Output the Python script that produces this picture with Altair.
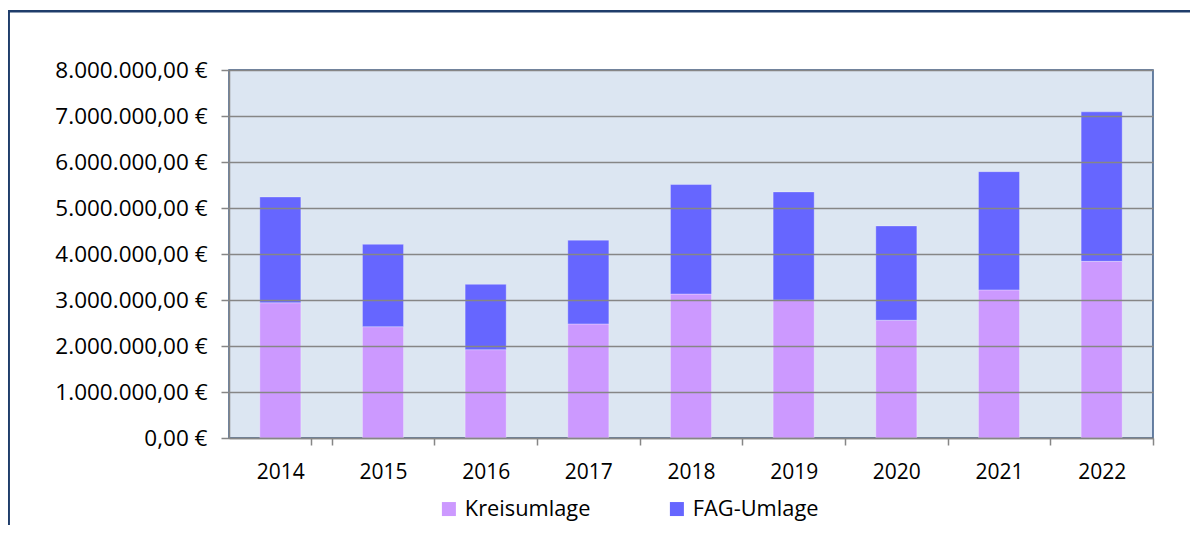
import altair as alt
import pandas as pd

years = ["2014", "2015", "2016", "2017", "2018", "2019", "2020", "2021", "2022"]
kreisumlage = [2940000, 2420000, 1920000, 2480000, 3130000, 3000000, 2560000, 3220000, 3840000]
fag_umlage = [2300000, 1790000, 1420000, 1820000, 2380000, 2350000, 2050000, 2570000, 3250000]
series = ["Kreisumlage", "FAG-Umlage"]
colors = ["#CC99FF", "#6666FF"]
y_ticks = [0, 1000000, 2000000, 3000000, 4000000, 5000000, 6000000, 7000000, 8000000]

rows = []
for i, yr in enumerate(years):
    rows.append({"Jahr": yr, "Art": series[0], "Betrag": kreisumlage[i], "ord": 0})
    rows.append({"Jahr": yr, "Art": series[1], "Betrag": fag_umlage[i], "ord": 1})
df = pd.DataFrame(rows)

FONT = "Open Sans"
GREY = "#868686"
W = 924
H = 368
HALF_STEP = W / len(years) / 2

label_expr = (
    "replace(replace(replace(format(datum.value, ',.2f'), regexp(',', 'g'), '_'), "
    "regexp('[.]', 'g'), ','), regexp('_', 'g'), '.') + ' €'"
)

bars = alt.Chart(df).mark_bar(stroke="white", strokeOpacity=0.3, strokeWidth=1).encode(
    x=alt.X(
        "Jahr:N",
        sort=years,
        scale=alt.Scale(paddingInner=0.6, paddingOuter=0.3),
        axis=alt.Axis(
            title=None, labelAngle=0, tickOffset=HALF_STEP, labelOffset=-HALF_STEP,
            tickExtra=True, tickSize=7, tickColor=GREY,
            tickWidth=1.5, domainColor=GREY, domainWidth=1.5, labelPadding=16,
            labelFont=FONT, labelFontSize=21, labelColor="#000000", grid=False, zindex=1,
        ),
    ),
    y=alt.Y(
        "Betrag:Q",
        stack="zero",
        scale=alt.Scale(domain=[0, 8000000], nice=False),
        axis=alt.Axis(
            title=None, values=y_ticks, labelExpr=label_expr, tickSize=8, tickColor=GREY,
            tickWidth=1.5, domainColor=GREY, domainWidth=1.5, gridColor=GREY, gridWidth=1.5,
            labelPadding=14, labelFont=FONT, labelFontSize=22.5, labelColor="#000000", zindex=1,
        ),
    ),
    color=alt.Color(
        "Art:N",
        sort=series,
        scale=alt.Scale(domain=series, range=colors),
        legend=alt.Legend(
            title=None, orient="none", direction="horizontal", legendX=209, legendY=428,
            symbolType="square", symbolSize=196, symbolStrokeWidth=0, labelFont=FONT,
            labelFontSize=21.8, labelColor="#000000", columnPadding=75, labelOffset=5,
        ),
    ),
    order=alt.Order("ord:Q", sort="ascending"),
)

frame = alt.Chart(alt.Data(values=[{}])).mark_rect(
    fill=None, stroke="#1F3D6B", strokeWidth=2.5
).encode(
    x=alt.value(-220.3), x2=alt.value(1000), y=alt.value(-58.7), y2=alt.value(520)
)

chart = alt.layer(bars, frame).properties(
    width=W,
    height=H,
    autosize="none",
    padding={"left": 221, "top": 62, "right": 37, "bottom": 87},
).configure_view(
    fill="#DCE6F2", stroke="#3A5A85", strokeWidth=1.5
)

chart.save("out.html", embed_options={"renderer": "svg", "actions": False})
